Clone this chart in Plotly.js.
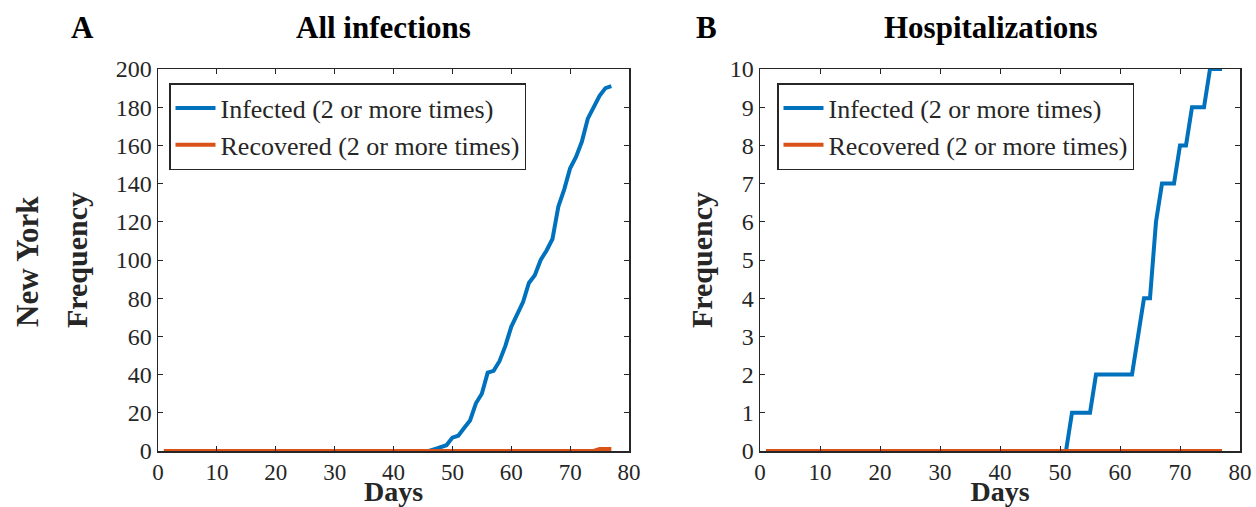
<!DOCTYPE html>
<html>
<head>
<meta charset="utf-8">
<script src="https://cdn.plot.ly/plotly-3.0.1.min.js"></script>
<style>html,body{margin:0;padding:0;background:#fff;}#chart{width:1256px;height:507px;}</style>
</head>
<body>
<div id="chart"></div>
<script>
const days = Array.from({length: 77}, (_, i) => i + 1);

// Panel A: all infections (days 1..77)
const allInfected = [
  0,0,0,0,0,0,0,0,0,0, 0,0,0,0,0,0,0,0,0,0,
  0,0,0,0,0,0,0,0,0,0, 0,0,0,0,0,0,0,0,0,0,
  0,0,0,0,0,0,1,2,3,7, 8,12,16,25,30,41,42,47,55,65,
  72,78,88,92,100,105,111,128,137,148, 154,162,174,180,186,190,191
];
const allRecovered = [
  0,0,0,0,0,0,0,0,0,0, 0,0,0,0,0,0,0,0,0,0,
  0,0,0,0,0,0,0,0,0,0, 0,0,0,0,0,0,0,0,0,0,
  0,0,0,0,0,0,0,0,0,0, 0,0,0,0,0,0,0,0,0,0,
  0,0,0,0,0,0,0,0,0,0, 0,0,0,0,1,1,1
];

// Panel B: hospitalizations (days 1..77)
const hospInfected = [
  0,0,0,0,0,0,0,0,0,0, 0,0,0,0,0,0,0,0,0,0,
  0,0,0,0,0,0,0,0,0,0, 0,0,0,0,0,0,0,0,0,0,
  0,0,0,0,0,0,0,0,0,0, 0,1,1,1,1,2,2,2,2,2,
  2,2,3,4,4,6,7,7,7,8, 8,9,9,9,10,10,10
];
const hospRecovered = [
  0,0,0,0,0,0,0,0,0,0, 0,0,0,0,0,0,0,0,0,0,
  0,0,0,0,0,0,0,0,0,0, 0,0,0,0,0,0,0,0,0,0,
  0,0,0,0,0,0,0,0,0,0, 0,0,0,0,0,0,0,0,0,0,
  0,0,0,0,0,0,0,0,0,0, 0,0,0,0,0,0,0
];

const seriesNames = ['Infected (2 or more times)', 'Recovered (2 or more times)'];
const xTicks = [0,10,20,30,40,50,60,70,80];
const yTicksA = [0,20,40,60,80,100,120,140,160,180,200];
const yTicksB = [0,1,2,3,4,5,6,7,8,9,10];

const blue = '#0072BD', orange = '#D95319';
const FONT = 'Liberation Serif';
const dark = '#262626';

const traces = [
  {x: days, y: allInfected, name: seriesNames[0], type: 'scatter', mode: 'lines',
   line: {color: blue, width: 4}, xaxis: 'x', yaxis: 'y', legend: 'legend'},
  {x: days, y: allRecovered, name: seriesNames[1], type: 'scatter', mode: 'lines',
   line: {color: orange, width: 4}, xaxis: 'x', yaxis: 'y', legend: 'legend'},
  {x: days, y: hospInfected, name: seriesNames[0], type: 'scatter', mode: 'lines',
   line: {color: blue, width: 4}, xaxis: 'x2', yaxis: 'y2', legend: 'legend2'},
  {x: days, y: hospRecovered, name: seriesNames[1], type: 'scatter', mode: 'lines',
   line: {color: orange, width: 4}, xaxis: 'x2', yaxis: 'y2', legend: 'legend2'}
];

const W = 1256, H = 507;
const yDom = [(H - 451) / H, (H - 69) / H];

function xAxis(dom) {
  return {
    domain: dom, range: [0, 80], tickvals: xTicks, ticktext: xTicks.map(String),
    ticks: 'inside', ticklen: 5, tickwidth: 1, tickcolor: dark,
    showline: true, linecolor: dark, linewidth: 1.5, mirror: 'ticks',
    showgrid: false, zeroline: false, automargin: false,
    tickfont: {family: FONT, size: 23, color: dark},
    title: {text: '<b>Days</b>', font: {family: FONT, size: 28, color: dark}, standoff: 6},
    fixedrange: true
  };
}
function yAxis(range, ticks, dom, standoff) {
  return {
    domain: dom, range: range, tickvals: ticks, ticktext: ticks.map(String),
    ticks: 'inside', ticklen: 5, tickwidth: 1, tickcolor: dark,
    showline: true, linecolor: dark, linewidth: 1.5, mirror: 'ticks',
    showgrid: false, zeroline: false, automargin: false,
    tickfont: {family: FONT, size: 24, color: dark},
    title: {text: '<b>Frequency</b>', font: {family: FONT, size: 30, color: dark}, standoff: standoff},
    fixedrange: true
  };
}

const layout = {
  width: W, height: H,
  margin: {l: 0, r: 0, t: 0, b: 0},
  paper_bgcolor: '#fff', plot_bgcolor: '#fff',
  font: {family: FONT, color: dark},
  xaxis: Object.assign(xAxis([158 / W, 629 / W]), {anchor: 'y'}),
  yaxis: Object.assign(yAxis([0, 200], yTicksA, yDom, 19), {anchor: 'x'}),
  xaxis2: Object.assign(xAxis([760 / W, 1240 / W]), {anchor: 'y2'}),
  yaxis2: Object.assign(yAxis([0, 10], yTicksB, yDom, 8), {anchor: 'x2'}),
  legend: {
    x: 169 / W, y: 1 - 83 / H, xanchor: 'left', yanchor: 'top',
    bgcolor: '#fff', bordercolor: dark, borderwidth: 1.5,
    font: {family: FONT, size: 26, color: dark}, tracegroupgap: 0,
    itemwidth: 40
  },
  legend2: {
    x: 777 / W, y: 1 - 83 / H, xanchor: 'left', yanchor: 'top',
    bgcolor: '#fff', bordercolor: dark, borderwidth: 1.5,
    font: {family: FONT, size: 26, color: dark}, tracegroupgap: 0,
    itemwidth: 40
  },
  annotations: [
    {text: '<b>A</b>', x: 82 / W, y: 1 - 28 / H, xref: 'paper', yref: 'paper',
     xanchor: 'center', yanchor: 'middle',
     showarrow: false, font: {family: FONT, size: 31, color: '#000'}},
    {text: '<b>All infections</b>', x: 383 / W, y: 1 - 28 / H, xref: 'paper', yref: 'paper',
     xanchor: 'center', yanchor: 'middle',
     showarrow: false, font: {family: FONT, size: 31, color: '#000'}},
    {text: '<b>B</b>', x: 706 / W, y: 1 - 28 / H, xref: 'paper', yref: 'paper',
     xanchor: 'center', yanchor: 'middle',
     showarrow: false, font: {family: FONT, size: 31, color: '#000'}},
    {text: '<b>Hospitalizations</b>', x: 991 / W, y: 1 - 28 / H, xref: 'paper', yref: 'paper',
     xanchor: 'center', yanchor: 'middle',
     showarrow: false, font: {family: FONT, size: 31, color: '#000'}},
    {text: '<b>New York</b>', x: 27 / W, y: 1 - 262 / H, xref: 'paper', yref: 'paper',
     xanchor: 'center', yanchor: 'middle',
     showarrow: false, textangle: -90, font: {family: FONT, size: 31, color: dark}}
  ]
};

Plotly.newPlot('chart', traces, layout, {displayModeBar: false, staticPlot: true});
</script>
</body>
</html>
